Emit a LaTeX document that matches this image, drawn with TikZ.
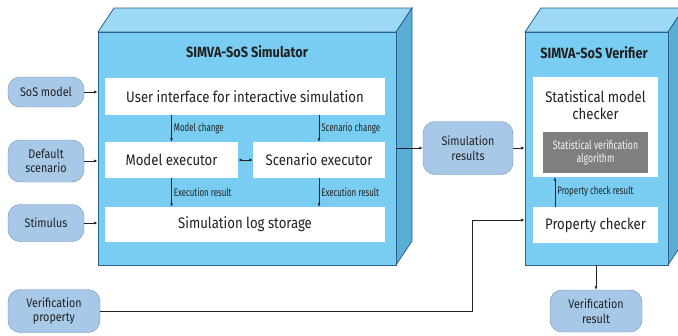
\documentclass[tikz,border=0pt]{standalone}
\usepackage{fontspec}
\setmainfont[FakeStretch=0.86]{Fira Sans}
\newfontfamily\narrowfont[FakeStretch=0.72]{Fira Sans}
\usetikzlibrary{arrows.meta}
\definecolor{faceC}{HTML}{7ACDF2}
\definecolor{topC}{HTML}{9DD9F4}
\definecolor{sideC}{HTML}{5AAED6}
\definecolor{edgeC}{HTML}{2C5F8C}
\definecolor{inC}{HTML}{A8C8E8}
\definecolor{inD}{HTML}{6E8EB4}
\definecolor{txtC}{HTML}{222222}
\definecolor{grayC}{HTML}{7F7F7F}
\tikzset{
    IN/.style ={rectangle,rounded corners=12pt,draw=inD,fill=inC,text=txtC,align=center,font=\fontsize{12.5}{14.5}\selectfont,inner sep=0pt},
    WB/.style ={rectangle,fill=white,text=txtC,align=center,font=\fontsize{15.3}{17}\selectfont,inner sep=0pt},
    GB/.style ={rectangle,fill=grayC,text=white!92!gray,align=center,font=\narrowfont\fontsize{12}{13}\selectfont,inner sep=0pt},
    FA/.style ={rectangle,draw=edgeC,fill=faceC,line width=0.8pt,inner sep=0pt},
    TI/.style ={text=txtC,font=\bfseries\fontsize{14.8}{16}\selectfont},
    LB/.style ={right,text=txtC,font=\narrowfont\fontsize{11}{12}\selectfont,inner sep=2pt},
    AR/.style ={-{Latex[length=3.5pt,width=3pt]},line width=0.7pt,draw=txtC}}

\begin{document}
\begin{tikzpicture}[x=1pt,y=-1pt]
        \useasboundingbox (0,0) rectangle (678,335);
        % simulator block
        \fill[topC,draw=edgeC,line width=0.8pt] (98,32)--(114,8)--(412,8)--(396,32)--cycle;
        \fill[sideC,draw=edgeC,line width=0.8pt] (396,32)--(412,8)--(412,241)--(396,265)--cycle;
        \node[FA,minimum width=298,minimum height=233] (sim) at(247,148.5){};
        % verifier block
        \fill[topC,draw=edgeC,line width=0.8pt] (525,32)--(541,8)--(684,8)--(668,32)--cycle;
        \fill[sideC,draw=edgeC,line width=0.8pt] (668,32)--(684,8)--(684,241)--(668,265)--cycle;
        \node[FA,minimum width=143,minimum height=233] (ver) at(596.5,148.5){};
        \node[TI] (simt) at(247,52){SIMVA-SoS Simulator};
        \node[TI] (vert) at(594,53){SIMVA-SoS Verifier};
        % inner boxes
        \node[WB,minimum width=280,minimum height=37] (ui) at(245,96.5){User interface for interactive simulation};
        \node[WB,minimum width=133,minimum height=36] (me) at(171.5,160){Model executor};
        \node[WB,minimum width=132,minimum height=36] (se) at(319,160){Scenario executor};
        \node[WB,minimum width=280,minimum height=35] (log) at(245,224.5){Simulation log storage};
        \node[WB,minimum width=125,minimum height=100] (smc) at(595.5,127){};
        \node[WB,fill=none] (smct) at(595.5,105){Statistical model\\checker};
        \node[GB,minimum width=105,minimum height=41] (alg) at(595.5,152.5){Statistical verification\\algorithm};
        \node[WB,minimum width=125,minimum height=36] (pc) at(595.5,225){Property checker};
        % inputs and outputs
        \node[IN,minimum width=76,minimum height=30] (sos) at(46,92){SoS model};
        \node[IN,minimum width=76,minimum height=42] (ds) at(46,161){Default\\scenario};
        \node[IN,minimum width=76,minimum height=37] (st) at(46,223){Stimulus};
        \node[IN,minimum width=92,minimum height=43] (vp) at(54,311){Verification\\property};
        \node[IN,minimum width=90,minimum height=53] (sr) at(468,148){Simulation\\results};
        \node[IN,minimum width=92,minimum height=42] (vr) at(596,311){Verification\\result};
        \coordinate (bend) at(472,220);
        % connectors
        \draw[AR] (sos.east) --(sos.east -| sim.west);
        \draw[AR] (ds.east) --(ds.east -| sim.west);
        \draw[AR] (st.east) --(st.east -| sim.west);
        \draw[AR] (ui.south -| me) --(me.north) node[LB,midway]{Model change};
        \draw[AR] (ui.south -| se) --(se.north) node[LB,midway]{Scenario change};
        \draw[AR] (me.south) --(log.north -| me) node[LB,midway]{Execution result};
        \draw[AR] (se.south) --(log.north -| se) node[LB,midway]{Execution result};
        \draw[AR,{Latex[length=3.5pt,width=3pt]}-{Latex[length=3.5pt,width=3pt]}] (me.east) --(se.west);
        \draw[AR] (sr.west -| sim.east) --(sr.west);
        \draw[AR] (sr.east) --(sr.east -| ver.west);
        \draw[AR] ([xshift=-40.5pt]pc.north) --([xshift=-40.5pt]smc.south) node[LB,midway]{Property check result};
        \draw[AR] (vp.east) -| (bend) --(bend -| ver.west);
        \draw[AR] (ver.south -| vr) --(vr.north);
    \end{tikzpicture}
\end{document}
